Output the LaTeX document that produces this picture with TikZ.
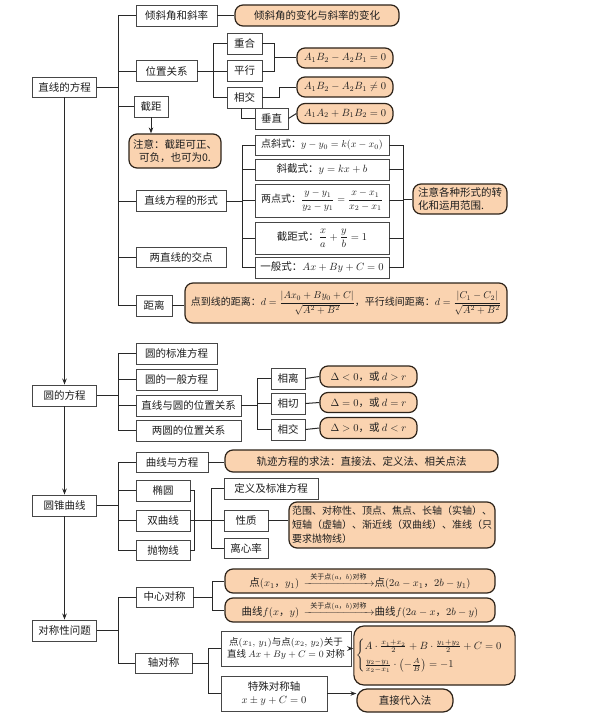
\RequirePackage{fix-cm}
\documentclass[tikz,border=0pt]{standalone}
\usepackage{amsmath}
\usepackage[no-math]{fontspec}
\setmainfont{Noto Sans CJK SC}
\usetikzlibrary{arrows.meta}
\definecolor{ofill}{RGB}{250,211,176}
\definecolor{obord}{RGB}{45,35,25}
\definecolor{bord}{RGB}{70,70,70}
\definecolor{lnc}{RGB}{40,40,40}
\definecolor{txt}{RGB}{30,30,30}
\newcommand\relto[1]{\xrightarrow{\hspace{4pt}\text{\fontsize{7}{8}\selectfont #1}\hspace{4pt}}}
\tikzset{
 bx/.style={draw=bord, line width=0.9pt, fill=white, inner sep=1pt, align=center, text=txt, font=\fontsize{10.5}{13}\selectfont},
 ob/.style={draw=obord, line width=1.2pt, fill=ofill, rounded corners=8pt, inner sep=2pt, align=center, text=txt, font=\fontsize{10.5}{13}\selectfont},
 ln/.style={draw=lnc, line width=1pt},
 ar/.style={ln, -{Stealth[length=6pt,width=4.5pt]}},
}
\begin{document}
\begin{tikzpicture}[x=1pt,y=-1pt]
\useasboundingbox (0,0) rectangle (600,717);
% ---------------- tree 1
\node[bx,minimum width=64pt,minimum height=20pt] (r1) at (64.5,87) {直线的方程};
\node[bx,minimum width=81pt,minimum height=21pt] (a1) at (176.5,15.5) {倾斜角和斜率};
\node[ob,minimum width=164pt,minimum height=21pt] (oa1) at (317,15.5) {倾斜角的变化与斜率的变化};
\node[bx,minimum width=61pt,minimum height=21pt] (a2) at (166.5,71) {位置关系};
\node[bx,minimum width=35pt,minimum height=21pt] (b1) at (244.5,43.5) {重合};
\node[bx,minimum width=35pt,minimum height=21pt] (b2) at (244.5,71) {平行};
\node[bx,minimum width=35pt,minimum height=21pt] (b3) at (244.5,97.5) {相交};
\node[bx,minimum width=33pt,minimum height=21pt] (b4) at (271.5,118.5) {垂直};
\node[ob,minimum width=96pt,minimum height=20pt] (ob1) at (345,58) {$A_1B_2-A_2B_1=0$};
\node[ob,minimum width=96pt,minimum height=20pt] (ob2) at (345,87) {$A_1B_2-A_2B_1\neq0$};
\node[ob,minimum width=96pt,minimum height=20pt] (ob3) at (345,113.5) {$A_1A_2+B_1B_2=0$};
\node[bx,minimum width=34pt,minimum height=21pt] (a3) at (151,106.5) {截距};
\node[ob,minimum width=92pt,minimum height=34pt] (na3) at (175,151) {注意：截距可正、\\可负，也可为0.};
\node[bx,minimum width=90pt,minimum height=21pt] (a4) at (181,201) {直线方程的形式};
\node[bx,minimum width=134pt,minimum height=20pt,font=\fontsize{10}{12}\selectfont] (f1) at (322,145) {点斜式：$y-y_0=k(x-x_0)$};
\node[bx,minimum width=134pt,minimum height=21pt] (f2) at (322,169.5) {斜截式：$y=kx+b$};
\node[bx,minimum width=134pt,minimum height=33pt,font=\fontsize{10}{12}\selectfont] (f3) at (322,200.5) {两点式：$\dfrac{y-y_1}{y_2-y_1}=\dfrac{x-x_1}{x_2-x_1}$};
\node[bx,minimum width=134pt,minimum height=32pt] (f4) at (322,238) {截距式：$\dfrac{x}{a}+\dfrac{y}{b}=1$};
\node[bx,minimum width=134pt,minimum height=21pt] (f5) at (322,267.5) {一般式：$Ax+By+C=0$};
\node[ob,minimum width=94pt,minimum height=30pt,align=left] (nf) at (460,199) {注意各种形式的转\\化和运用范围.};
\node[bx,minimum width=90pt,minimum height=20pt] (a5) at (181,257) {两直线的交点};
\node[bx,minimum width=36pt,minimum height=21pt] (a6) at (154,305.5) {距离};
\node[ob,minimum width=322pt,minimum height=40pt,font=\fontsize{10}{12}\selectfont] (oa6) at (346,303) {点到线的距离：$d=\dfrac{|Ax_0+By_0+C|}{\sqrt{A^2+B^2}}$，平行线间距离：$d=\dfrac{|C_1-C_2|}{\sqrt{A^2+B^2}}$};
\coordinate (s1) at (118,87);
\draw[ln] (r1.east) -- (s1);
\foreach \n in {a1,a2,a3,a4,a5,a6} \draw[ln] (s1) |- (\n.west);
\draw[ln] (a1.east) -- (oa1.west);
\coordinate (s1p) at (213,71);
\draw[ln] (a2.east) -- (s1p);
\foreach \n in {b1,b2,b3} \draw[ln] (s1p) |- (\n.west);
\coordinate (pb) at (274,58);
\draw[ln] (b1.east) -| (pb);
\draw[ln] (b2.east) -| (pb);
\draw[ln] (pb) -- (ob1.west);
\draw[ln] (b3.east) -- ++(17,0) |- (ob2.west);
\draw[ln] ([xshift=-3pt]b3.south) |- (b4.west);
\draw[ln] (b4.east) -- (ob3.west);
\draw[ar] (a3.south) -- (a3.south |- na3.north);
\coordinate (s1f) at (242,201);
\draw[ln] (a4.east) -- (s1f);
\foreach \n in {f1,f2,f3,f4,f5} \draw[ln] (s1f) |- (\n.west);
\coordinate (s1g) at (403,199);
\foreach \n in {f1,f2,f3,f4,f5} \draw[ln] (\n.east) -| (s1g);
\draw[ln] (s1g) -- (nf.west);
\draw[ln] (a6.east) -- (a6.east -| oa6.west);
% ---------------- tree 2
\node[bx,minimum width=64pt,minimum height=21pt] (r2) at (64.5,395.5) {圆的方程};
\node[bx,minimum width=81pt,minimum height=21pt] (c1) at (176.5,353.5) {圆的标准方程};
\node[bx,minimum width=81pt,minimum height=21pt] (c2) at (176.5,379.5) {圆的一般方程};
\node[bx,minimum width=105pt,minimum height=21pt] (c3) at (188.5,405.5) {直线与圆的位置关系};
\node[bx,minimum width=105pt,minimum height=21pt] (c4) at (188.5,430.5) {两圆的位置关系};
\node[bx,minimum width=34pt,minimum height=21pt] (d1) at (288,378.5) {相离};
\node[bx,minimum width=34pt,minimum height=21pt] (d2) at (288,403.5) {相切};
\node[bx,minimum width=34pt,minimum height=21pt] (d3) at (288,429.5) {相交};
\node[ob,minimum width=97pt,minimum height=21pt] (od1) at (368.5,376.5) {$\Delta<0$，或 $d>r$};
\node[ob,minimum width=97pt,minimum height=20pt] (od2) at (368.5,402.5) {$\Delta=0$，或 $d=r$};
\node[ob,minimum width=97pt,minimum height=21pt] (od3) at (368.5,428) {$\Delta>0$，或 $d<r$};
\draw[ar] (r1.south) -- (r1.south |- r2.north);
\coordinate (s2) at (118,395.5);
\draw[ln] (r2.east) -- (s2);
\foreach \n in {c1,c2,c3,c4} \draw[ln] (s2) |- (\n.west);
\coordinate (s2p) at (257,405.5);
\draw[ln] (c3.east) -- (s2p);
\foreach \n in {d1,d2,d3} \draw[ln] (s2p) |- (\n.west);
\draw[ln] (d1.east) -- (od1.west);
\draw[ln] (d2.east) -- (od2.west);
\draw[ln] (d3.east) -- (od3.west);
% ---------------- tree 3
\node[bx,minimum width=64pt,minimum height=21pt] (r3) at (64.5,505.5) {圆锥曲线};
\node[bx,minimum width=72pt,minimum height=20pt] (e1) at (172,462) {曲线与方程};
\node[ob,minimum width=273pt,minimum height=22pt] (oe1) at (361.5,461) {轨迹方程的求法：直接法、定义法、相关点法};
\node[bx,minimum width=54pt,minimum height=21pt] (e2) at (163,490.5) {椭圆};
\node[bx,minimum width=54pt,minimum height=21pt] (e3) at (163,520.5) {双曲线};
\node[bx,minimum width=54pt,minimum height=20pt] (e4) at (163,550) {抛物线};
\node[bx,minimum width=94pt,minimum height=21pt] (g1) at (271,488.5) {定义及标准方程};
\node[bx,minimum width=44pt,minimum height=21pt] (g2) at (246,520.5) {性质};
\node[bx,minimum width=44pt,minimum height=20pt] (g3) at (246,548) {离心率};
\node[ob,minimum width=206pt,minimum height=46pt,align=left,inner sep=1pt,font=\fontsize{10}{14}\selectfont] (og2) at (392,525) {范围、对称性、顶点、焦点、长轴（实轴）、\\短轴（虚轴）、渐近线（双曲线）、准线（只\\要求抛物线）};
\draw[ar] (r2.south) -- (r2.south |- r3.north);
\coordinate (s3) at (118,505.5);
\draw[ln] (r3.east) -- (s3);
\foreach \n in {e1,e2,e3,e4} \draw[ln] (s3) |- (\n.west);
\draw[ln] (e1.east) -- (e1.east -| oe1.west);
\draw[ln] (e2.east) -- ++(4,0) |- (e4.east);
\draw[ln] (e3.east) -- (g2.west);
\coordinate (s3p) at (211,520.5);
\draw[ln] (s3p) |- (g1.west);
\draw[ln] (s3p) |- (g3.west);
\draw[ln] (g2.east) -- (g2.east -| og2.west);
% ---------------- tree 4
\node[bx,minimum width=64pt,minimum height=21pt] (r4) at (64.5,630.5) {对称性问题};
\node[bx,minimum width=57pt,minimum height=20pt] (h1) at (164.5,597) {中心对称};
\node[bx,minimum width=57pt,minimum height=20pt] (h2) at (163.5,663) {轴对称};
\node[ob,minimum width=270pt,minimum height=24pt] (oh1) at (360,581) {点$(x_1$，$y_1)$\ \ $\relto{关于点$(a$，$b)$对称}$点$(2a-x_1$，$2b-y_1)$};
\node[ob,minimum width=270pt,minimum height=24pt] (oh2) at (360,610) {曲线$f(x$，$y)$\ \ $\relto{关于点$(a$，$b)$对称}$曲线$f(2a-x$，$2b-y)$};
\node[bx,minimum width=130pt,minimum height=35pt,font=\fontsize{9.5}{12.5}\selectfont] (k1) at (286,648.5) {点$(x_1,\,y_1)$与点$(x_2,\,y_2)$关于\\直线 $Ax+By+C=0$ 对称};
\node[bx,minimum width=106pt,minimum height=35pt] (k2) at (274,693.5) {特殊对称轴\\$x\pm y+C=0$};
\node[ob,minimum width=139pt,minimum height=59pt,rounded corners=10pt] (ok1) at (434.5,655.5) {$\begin{cases} A\cdot\frac{x_1+x_2}{2}+B\cdot\frac{y_1+y_2}{2}+C=0\\[3pt] \frac{y_2-y_1}{x_2-x_1}\cdot\left(-\frac{A}{B}\right)=-1\end{cases}$};
\node[ob,minimum width=96pt,minimum height=23pt,rounded corners=10pt] (ok2) at (405,700.5) {直接代入法};
\draw[ar] (r3.south) -- (r3.south |- r4.north);
\coordinate (s4) at (118,630.5);
\draw[ln] (r4.east) -- (s4);
\draw[ln] (s4) |- (h1.west);
\draw[ln] (s4) |- (h2.west);
\coordinate (s4a) at (212,597);
\draw[ln] (h1.east) -- (s4a);
\draw[ln] (s4a) |- (oh1.west);
\draw[ln] (s4a) |- (oh2.west);
\coordinate (s4b) at (208,663);
\draw[ln] (h2.east) -- (s4b);
\draw[ln] (s4b) |- (k1.west);
\draw[ln] (s4b) |- (k2.west);
\draw[ar] (k1.east) -- (k1.east -| ok1.west);
\draw[ar] (k2.east) -- (k2.east -| ok2.west);
\end{tikzpicture}
\end{document}
